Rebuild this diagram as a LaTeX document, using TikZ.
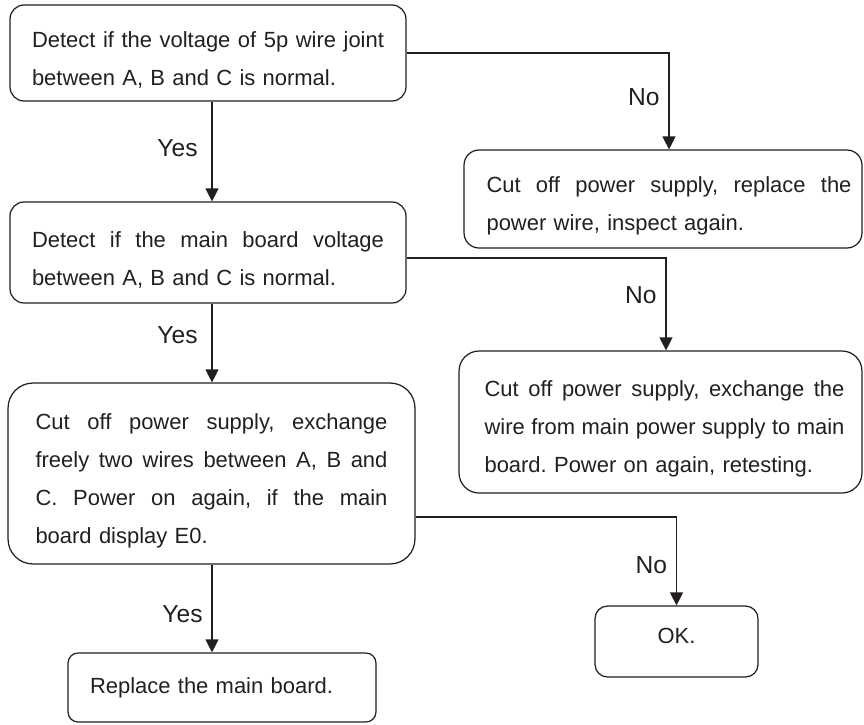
\documentclass[tikz,border=0pt]{standalone}
\usepackage{fontspec}
\setmainfont{Liberation Sans}
\usepackage{tikz}
\usetikzlibrary{arrows.meta}
\definecolor{ink}{HTML}{231F20}
\frenchspacing
\newcommand{\jline}[2]{\leavevmode\hbox to #1{\spaceskip=0.278em plus 3em minus 0.05em\relax #2}\\}
\tikzset{
  stepbox/.style={draw=ink, text=ink, line width=0.7pt, align=left, inner xsep=0pt,
    font=\fontsize{12.5}{21.6}\selectfont},
  lowered/.style={execute at begin node={\rule{0pt}{17pt}}},
  raised/.style={execute at begin node={\rule[-6pt]{0pt}{6pt}}},
  flow/.style={draw=ink, line width=0.7pt, -{Triangle[length=0.26cm,width=0.26cm]}},
  lbl/.style={left, text=ink, inner sep=5pt, font=\fontsize{14}{16}\selectfont},
  >=Stealth
}

\begin{document}
\begin{tikzpicture}[x=0.02cm, y=-0.02cm]
  \useasboundingbox (0,0) rectangle (864,724);
  % boxes
  \node[stepbox, lowered, minimum width=7.92cm, minimum height=1.92cm, text width=7.04cm, rounded corners=0.28cm] (chk1) at (208,53)
    {\jline{7.04cm}{Detect if the voltage of 5p wire joint}between A, B and C is normal.};
  \node[stepbox, lowered, minimum width=7.96cm, minimum height=1.96cm, text width=7.06cm, rounded corners=0.3cm] (fix1) at (663,199)
    {\jline{7.3cm}{Cut off power supply, replace the}power wire, inspect again.};
  \node[stepbox, lowered, minimum width=7.92cm, minimum height=2.02cm, text width=7.04cm, rounded corners=0.28cm] (chk2) at (208,252.5)
    {\jline{7.04cm}{Detect if the main board voltage}between A, B and C is normal.};
  \node[stepbox, lowered, minimum width=8.06cm, minimum height=2.84cm, text width=7.04cm, rounded corners=0.4cm] (fix2) at (660.5,422)
    {\jline{7.2cm}{Cut off power supply, exchange the}\jline{7.2cm}{wire from main power supply to main}board. Power on again, retesting.};
  \node[stepbox, lowered, minimum width=8.14cm, minimum height=3.62cm, text width=7.04cm, rounded corners=0.5cm] (chk3) at (211.5,473.5)
    {\jline{7.04cm}{Cut off power supply, exchange}\jline{7.04cm}{freely two wires between A, B and}\jline{7.04cm}{C. Power on again, if the main}board display E0.};
  \node[stepbox, raised, minimum width=3.26cm, minimum height=1.42cm, rounded corners=0.25cm] (ok) at (676.5,641.5) {OK.};
  \node[stepbox, minimum width=6.16cm, minimum height=1.38cm, text width=5.28cm, rounded corners=0.2cm] (swap) at (222,687.5)
    {Replace the main board.};
  \coordinate (spine) at (212,0);
  % yes links
  \draw[flow] (chk1.south -| spine) -- node[lbl, pos=0.47, xshift=-0.1cm] {Yes} (chk2.north -| spine);
  \draw[flow] (chk2.south -| spine) -- node[lbl, pos=0.4, xshift=-0.1cm] {Yes} (chk3.north -| spine);
  \draw[flow] (chk3.south -| spine) -- node[lbl, pos=0.57] {Yes} (swap.north -| spine);
  % no links
  \draw[flow] (chk1.east) -| node[lbl, pos=0.73] {No} ([xshift=0.12cm]fix1.north);
  \draw[flow] ([yshift=-0.11cm]chk2.east) -| node[lbl, pos=0.7] {No} ([xshift=0.11cm]fix2.north);
  \draw[flow] ([yshift=-0.87cm]chk3.east) -| node[lbl, pos=0.77] {No} (ok.north);
\end{tikzpicture}
\end{document}
